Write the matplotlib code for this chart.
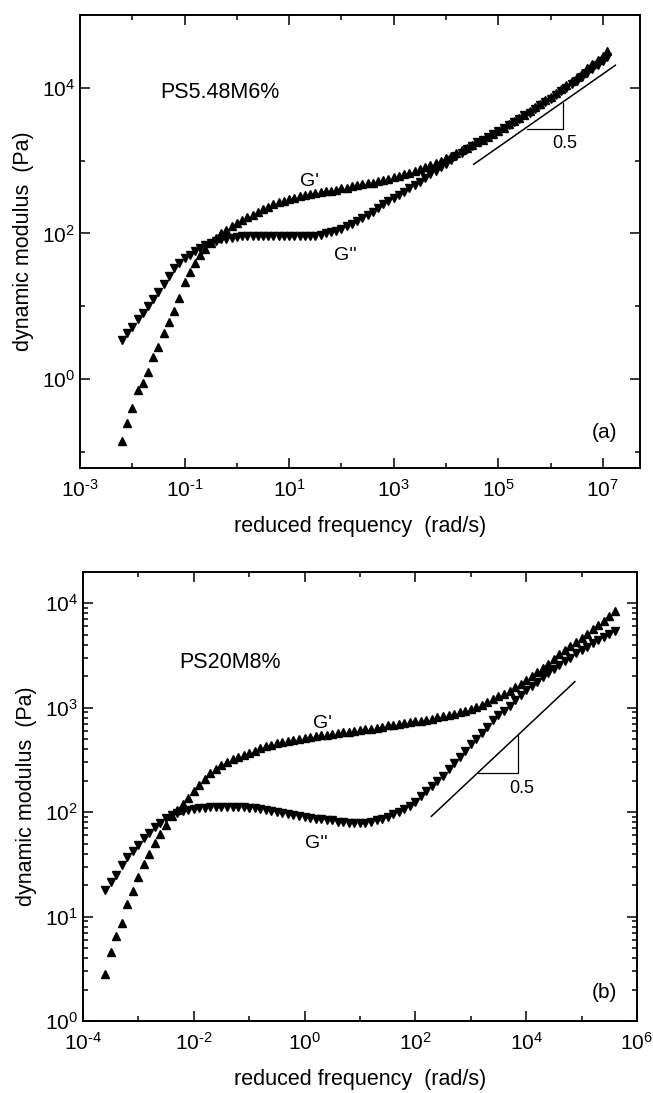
import numpy as np
import matplotlib
matplotlib.use('Agg')
import matplotlib.pyplot as plt
from matplotlib.ticker import FixedLocator, LogLocator, NullFormatter

plt.rcParams['font.family'] = ['Liberation Sans', 'DejaVu Sans']
plt.rcParams['mathtext.fontset'] = 'custom'
plt.rcParams['mathtext.rm'] = 'Liberation Sans'
plt.rcParams['mathtext.it'] = 'Liberation Sans'
plt.rcParams['axes.unicode_minus'] = False

# ---- panel (a) PS5.48M6%  (log10 values)
a_gp_logw = [-2.2, -2.1, -2.0, -1.9, -1.8, -1.7, -1.6, -1.5, -1.4, -1.3, -1.2, -1.1,
             -1.0, -0.9, -0.8, -0.7, -0.6, -0.5, -0.4, -0.3, -0.2, -0.1, 0.0, 0.1,
             0.2, 0.3, 0.4, 0.5, 0.6, 0.7, 0.8, 0.9, 1.0, 1.1, 1.2, 1.3, 1.4, 1.5,
             1.6, 1.7, 1.8, 1.9, 2.0, 2.1, 2.2, 2.3, 2.4, 2.5, 2.6, 2.7, 2.8, 2.9,
             3.0, 3.1, 3.2, 3.3, 3.4, 3.5, 3.6, 3.7, 3.8, 3.9, 4.0, 4.1, 4.2, 4.3,
             4.4, 4.5, 4.6, 4.7, 4.8, 4.9, 5.0, 5.1, 5.2, 5.3, 5.4, 5.5, 5.6, 5.7,
             5.8, 5.9, 6.0, 6.1, 6.2, 6.3, 6.4, 6.5, 6.6, 6.7, 6.8, 6.9, 7.0, 7.08]
a_gp_logG = [-0.85, -0.60, -0.39, -0.15, -0.05, 0.10, 0.31, 0.44, 0.64, 0.79, 0.94, 1.12,
             1.33, 1.47, 1.59, 1.70, 1.79, 1.87, 1.94, 2.00, 2.05, 2.10, 2.14, 2.18,
             2.22, 2.26, 2.30, 2.34, 2.37, 2.40, 2.43, 2.45, 2.47, 2.49, 2.51, 2.53, 2.54, 2.55,
             2.57, 2.58, 2.59, 2.60, 2.62, 2.63, 2.65, 2.67, 2.68, 2.69, 2.70, 2.72, 2.73, 2.75,
             2.77, 2.79, 2.81, 2.83, 2.86, 2.88, 2.91, 2.94, 2.97, 3.00, 3.04, 3.07, 3.10, 3.14,
             3.18, 3.21, 3.25, 3.29, 3.33, 3.37, 3.41, 3.45, 3.50, 3.54, 3.59, 3.63, 3.68, 3.73,
             3.78, 3.83, 3.88, 3.93, 3.98, 4.04, 4.10, 4.15, 4.21, 4.27, 4.33, 4.38, 4.44, 4.50]

a_gpp_logw = a_gp_logw
a_gpp_logG = [0.54, 0.63, 0.72, 0.82, 0.91, 1.01, 1.10, 1.20, 1.30, 1.42, 1.52, 1.60,
              1.66, 1.71, 1.76, 1.80, 1.84, 1.87, 1.90, 1.92, 1.93, 1.94, 1.95, 1.96,
              1.96, 1.97, 1.97, 1.97, 1.97, 1.97, 1.97, 1.97, 1.97, 1.97, 1.97, 1.96, 1.96, 1.97,
              1.98, 2.00, 2.02, 2.04, 2.06, 2.10, 2.13, 2.17, 2.21, 2.25, 2.30, 2.35, 2.40, 2.45,
              2.49, 2.53, 2.57, 2.62, 2.67, 2.71, 2.76, 2.81, 2.86, 2.91, 2.96, 3.01, 3.06, 3.11,
              3.16, 3.20, 3.25, 3.29, 3.33, 3.37, 3.41, 3.45, 3.49, 3.53, 3.57, 3.62, 3.66, 3.71,
              3.76, 3.81, 3.85, 3.90, 3.95, 4.00, 4.05, 4.10, 4.15, 4.21, 4.26, 4.31, 4.37, 4.42]

# ---- panel (b) PS20M8%
b_gp_logw = [-3.6, -3.5, -3.4, -3.3, -3.2, -3.1, -3.0, -2.9, -2.8, -2.7, -2.6, -2.5,
             -2.4, -2.3, -2.2, -2.1, -2.0, -1.9, -1.8, -1.7, -1.6, -1.5, -1.4, -1.3,
             -1.2, -1.1, -1.0, -0.9, -0.8, -0.7, -0.6, -0.5, -0.4, -0.3, -0.2, -0.1,
             0.0, 0.1, 0.2, 0.3, 0.4, 0.5, 0.6, 0.7, 0.8, 0.9, 1.0, 1.1, 1.2, 1.3,
             1.4, 1.5, 1.6, 1.7, 1.8, 1.9, 2.0, 2.1, 2.2, 2.3, 2.4, 2.5, 2.6, 2.7,
             2.8, 2.9, 3.0, 3.1, 3.2, 3.3, 3.4, 3.5, 3.6, 3.7, 3.8, 3.9, 4.0, 4.1,
             4.2, 4.3, 4.4, 4.5, 4.6, 4.7, 4.8, 4.9, 5.0, 5.1, 5.2, 5.3, 5.4, 5.5, 5.6]
b_gp_logG = [0.45, 0.66, 0.81, 0.94, 1.12, 1.24, 1.38, 1.50, 1.60, 1.70, 1.79, 1.88,
             1.96, 2.02, 2.08, 2.14, 2.20, 2.26, 2.32, 2.37, 2.41, 2.45, 2.48, 2.51,
             2.53, 2.55, 2.57, 2.59, 2.61, 2.63, 2.64, 2.66, 2.67, 2.68, 2.69, 2.70,
             2.71, 2.72, 2.73, 2.74, 2.74, 2.75, 2.76, 2.77, 2.77, 2.78, 2.79, 2.80, 2.80, 2.81,
             2.82, 2.83, 2.83, 2.84, 2.85, 2.86, 2.87, 2.87, 2.88, 2.89, 2.91, 2.92, 2.93, 2.94,
             2.96, 2.97, 2.99, 3.01, 3.03, 3.05, 3.08, 3.11, 3.13, 3.16, 3.20, 3.23, 3.27, 3.30,
             3.34, 3.38, 3.42, 3.47, 3.51, 3.55, 3.59, 3.63, 3.67, 3.71, 3.75, 3.79, 3.83, 3.88, 3.93]

b_gpp_logw = b_gp_logw
b_gpp_logG = [1.25, 1.33, 1.40, 1.49, 1.57, 1.63, 1.69, 1.75, 1.80, 1.86, 1.90, 1.94,
              1.97, 1.99, 2.01, 2.02, 2.03, 2.04, 2.04, 2.05, 2.05, 2.05, 2.05, 2.05,
              2.05, 2.05, 2.04, 2.04, 2.03, 2.02, 2.01, 2.00, 1.99, 1.98, 1.97, 1.96,
              1.95, 1.94, 1.93, 1.93, 1.92, 1.92, 1.91, 1.91, 1.90, 1.90, 1.90, 1.90, 1.91, 1.92,
              1.93, 1.95, 1.98, 2.00, 2.03, 2.06, 2.10, 2.15, 2.20, 2.25, 2.30, 2.35, 2.41, 2.47,
              2.53, 2.59, 2.65, 2.70, 2.76, 2.82, 2.88, 2.93, 2.97, 3.02, 3.07, 3.12, 3.17, 3.21,
              3.25, 3.29, 3.33, 3.37, 3.41, 3.45, 3.48, 3.52, 3.55, 3.58, 3.62, 3.65, 3.68, 3.71, 3.73]

# slope-0.5 guide lines: (log w, log G) ends, triangle corner
a_line = [(4.53, 2.95), (7.24, 4.31)]
a_tri = [(5.55, 3.44), (6.24, 3.44), (6.24, 3.79)]
b_line = [(2.29, 1.96), (4.88, 3.25)]
b_tri = [(3.14, 2.37), (3.86, 2.37), (3.86, 2.74)]

fig = plt.figure(figsize=(6.53, 10.93), dpi=100)
axa = fig.add_axes([0.1225, 0.5718, 0.8576, 0.4145])
axb = fig.add_axes([0.127, 0.0659, 0.8484, 0.4108])

def pw(v):
    return 10 ** np.array(v)

def dec_label(v, pos):
    e = int(round(np.log10(v)))
    if e < 0:
        return r'$10^{\text{-}%d}$' % (-e)
    return r'$10^{%d}$' % e

for ax in (axa, axb):
    for s in ax.spines.values():
        s.set_linewidth(1.4)
    ax.set_xscale('log')
    ax.set_yscale('log')
    ax.tick_params(which='both', direction='in', top=True, right=True, width=1.1,
                   labelsize=15)
    ax.tick_params(which='major', length=7)
    ax.tick_params(which='minor', length=3.5)
    ax.tick_params(axis='x', pad=8)
    ax.set_xlabel('reduced frequency  (rad/s)', fontsize=15.5, labelpad=11)
    ax.set_ylabel('dynamic modulus  (Pa)', fontsize=15.5, labelpad=6)

# panel (a)
ms = 6
axa.plot(pw(a_gp_logw), pw(a_gp_logG), ls='none', marker='^', ms=ms, color='black', mec='black')
axa.plot(pw(a_gpp_logw), pw(a_gpp_logG), ls='none', marker='v', ms=ms, color='black', mec='black')
axa.plot(pw([p[0] for p in a_line]), pw([p[1] for p in a_line]), color='black', lw=1.1)
axa.plot(pw([p[0] for p in a_tri]), pw([p[1] for p in a_tri]), color='black', lw=0.9)
axa.set_xlim(1e-3, 10 ** 7.71)
axa.set_ylim(10 ** -1.22, 1e5)
axa.xaxis.set_major_locator(FixedLocator([10.0 ** e for e in range(-3, 8, 2)]))
axa.xaxis.set_major_formatter(plt.FuncFormatter(dec_label))
axa.xaxis.set_minor_locator(FixedLocator([10.0 ** e for e in range(-2, 8, 2)]))
axa.xaxis.set_minor_formatter(NullFormatter())
axa.yaxis.set_major_locator(FixedLocator([10.0 ** e for e in range(0, 5, 2)]))
axa.yaxis.set_major_formatter(plt.FuncFormatter(dec_label))
axa.yaxis.set_minor_locator(FixedLocator([10.0 ** e for e in range(-1, 6, 2)]))
axa.yaxis.set_minor_formatter(NullFormatter())
axa.text(10 ** -1.47, 10 ** 3.94, 'PS5.48M6%', fontsize=15.5, ha='left', va='center')
axa.text(10 ** 1.39, 10 ** 2.71, "G'", fontsize=14, ha='center', va='center')
axa.text(10 ** 2.07, 10 ** 1.70, "G''", fontsize=14, ha='center', va='center')
axa.text(10 ** 6.28, 10 ** 3.24, '0.5', fontsize=13, ha='center', va='center')
axa.text(10 ** 7.04, 10 ** -0.73, '(a)', fontsize=15, ha='center', va='center')

# panel (b)
axb.plot(pw(b_gp_logw), pw(b_gp_logG), ls='none', marker='^', ms=ms, color='black', mec='black')
axb.plot(pw(b_gpp_logw), pw(b_gpp_logG), ls='none', marker='v', ms=ms, color='black', mec='black')
axb.plot(pw([p[0] for p in b_line]), pw([p[1] for p in b_line]), color='black', lw=1.1)
axb.plot(pw([p[0] for p in b_tri]), pw([p[1] for p in b_tri]), color='black', lw=0.9)
axb.set_xlim(1e-4, 1e6)
axb.set_ylim(1e0, 10 ** 4.3)
axb.xaxis.set_major_locator(FixedLocator([10.0 ** e for e in range(-4, 7, 2)]))
axb.xaxis.set_major_formatter(plt.FuncFormatter(dec_label))
axb.xaxis.set_minor_locator(FixedLocator([10.0 ** e for e in range(-3, 6, 2)]))
axb.xaxis.set_minor_formatter(NullFormatter())
axb.yaxis.set_major_locator(FixedLocator([10.0 ** e for e in range(0, 5)]))
axb.yaxis.set_major_formatter(plt.FuncFormatter(dec_label))
axb.yaxis.set_minor_locator(LogLocator(base=10, subs=np.arange(2, 10), numticks=20))
axb.yaxis.set_minor_formatter(NullFormatter())
axb.text(10 ** -2.27, 10 ** 3.43, 'PS20M8%', fontsize=15.5, ha='left', va='center')
axb.text(10 ** 0.33, 10 ** 2.85, "G'", fontsize=14, ha='center', va='center')
axb.text(10 ** 0.22, 10 ** 1.70, "G''", fontsize=14, ha='center', va='center')
axb.text(10 ** 3.92, 10 ** 2.23, '0.5', fontsize=13, ha='center', va='center')
axb.text(10 ** 5.41, 10 ** 0.27, '(b)', fontsize=15, ha='center', va='center')

fig.savefig('out.png', dpi=100)
